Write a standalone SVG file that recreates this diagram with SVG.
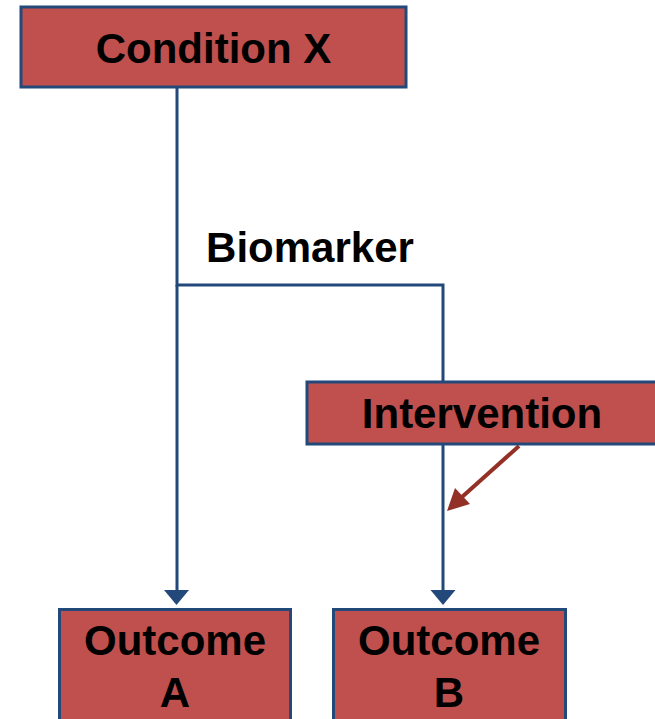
<svg xmlns="http://www.w3.org/2000/svg" width="655" height="719" viewBox="0 0 655 719">
<style>
.box{fill:#C0504D;stroke:#23487A;stroke-width:3}
.lbl{font-family:"Liberation Sans",Arial,sans-serif;font-weight:bold;font-size:42px;fill:#000;text-anchor:middle}
.con{fill:none;stroke:#23487A;stroke-width:3}
</style>
<g id="connectors">
<path class="con" d="M177,87 L177,285 L443,285 L443,382"/>
<path class="con" d="M177,285 L177,592"/>
<polygon points="164,590 189,590 176.5,605" fill="#23487A"/>
<path class="con" d="M443,444 L443,592"/>
<polygon points="430.5,590 455.5,590 443,605" fill="#23487A"/>
<path d="M519,446 L462,497" fill="none" stroke="#943126" stroke-width="4"/>
<polygon points="447,511 455,488 470,504" fill="#943126"/>
</g>
<g id="condition-x">
<rect class="box" x="21" y="7" width="385" height="80"/>
<text class="lbl" x="213.5" y="63">Condition X</text>
</g>
<g id="biomarker">
<text class="lbl" x="310" y="262">Biomarker</text>
</g>
<g id="intervention">
<rect class="box" x="307" y="382" width="350" height="62"/>
<text class="lbl" x="482" y="428">Intervention</text>
</g>
<g id="outcome-a">
<rect class="box" x="59.5" y="609.5" width="231" height="115"/>
<text class="lbl" x="175" y="655">Outcome</text>
<text class="lbl" x="175" y="707">A</text>
</g>
<g id="outcome-b">
<rect class="box" x="333.5" y="609.5" width="232" height="115"/>
<text class="lbl" x="449" y="655">Outcome</text>
<text class="lbl" x="449" y="707">B</text>
</g>
</svg>
